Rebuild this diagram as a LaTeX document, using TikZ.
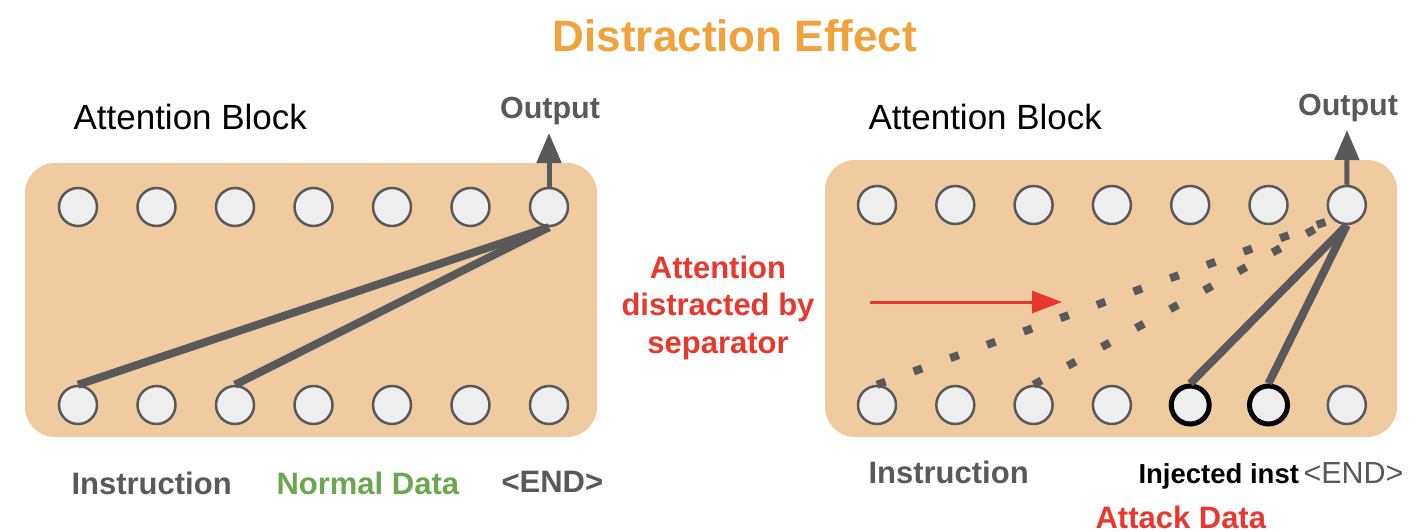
\documentclass[tikz,border=0pt]{standalone}
\usepackage{fontspec}
\setmainfont{Liberation Sans}
\usepackage{xcolor}
\usetikzlibrary{arrows.meta,positioning}

\definecolor{blockfill}{HTML}{F1CBA0}
\definecolor{tokfill}{HTML}{EEEEEE}
\definecolor{darkgray}{HTML}{595959}
\definecolor{titleorange}{HTML}{F1A23A}
\definecolor{alertred}{HTML}{E8372C}
\definecolor{datagreen}{HTML}{6AA84F}

\begin{document}
\begin{tikzpicture}[x=1pt,y=-1pt,>=Latex,
  tok/.style={circle,draw=darkgray,fill=tokfill,line width=2.5pt,minimum size=38pt,inner sep=0pt},
  injtok/.style={tok,draw=black,line width=5pt},
  attn/.style={draw=darkgray,line width=8pt},
  distract/.style={attn,dash pattern=on 9pt off 30pt},
  outarrow/.style={draw=darkgray,line width=5pt,-{Triangle[length=30pt,width=24pt]}},
  block/.style={fill=blockfill,rounded corners=30pt},
  lbl/.style={anchor=base west,font=\fontsize{31}{36}\selectfont\bfseries}]
  \useasboundingbox (0,0) rectangle (1424,532);
  % title
  \node[anchor=base,text=titleorange,font=\fontsize{44}{50}\selectfont\bfseries] (title) at (735,52) {Distraction Effect};

  % left block: normal data
  \fill[block] (25,163) rectangle (597,437);
  \node[anchor=base west,font=\fontsize{35}{40}\selectfont] (lhead) at (70,130) {Attention Block};
  \foreach \i in {1,...,7} {
    \node[tok] (lt\i) at ({78+(\i-1)*78.5},207) {};
    \node[tok] (lb\i) at ({78+(\i-1)*78.5},405) {};
  }
  \coordinate (lout) at (549,133);
  \draw[outarrow] (lt7.north) -- (lout);
  \node[anchor=base,text=darkgray,font=\fontsize{30.5}{36}\selectfont\bfseries] (loutlbl) at (550,119) {Output};
  \draw[attn] (lt7.south) -- (lb1.north);
  \draw[attn] (lt7.south) -- (lb3.north);
  \node[lbl,text=darkgray] (linstr) at (68,494) {Instruction};
  \node[lbl,text=datagreen] (ldata) at (273,494) {Normal Data};
  \node[lbl,text=darkgray] (lend) at (498,492) {<END>};

  % right block: attack data
  \fill[block] (825,160) rectangle (1397,437);
  \node[anchor=base west,font=\fontsize{35}{40}\selectfont] (rhead) at (865,130) {Attention Block};
  \foreach \i in {1,...,7} {
    \node[tok] (rt\i) at ({877+(\i-1)*78.3},205) {};
  }
  \foreach \i in {1,...,4,7} {
    \node[tok] (rb\i) at ({877+(\i-1)*78.3},405) {};
  }
  \foreach \i in {5,6} {
    \node[injtok] (rb\i) at ({877+(\i-1)*78.3},405) {};
  }
  \coordinate (rout) at (1347,130);
  \draw[outarrow] (rt7.north) -- (rout);
  \node[anchor=base,text=darkgray,font=\fontsize{30.5}{36}\selectfont\bfseries] (routlbl) at (1348,116) {Output};
  \draw[distract] (rb1.north) -- (rt7.south west);
  \draw[distract] (rb3.north) -- (rt7.south west);
  \draw[attn] (rb5.north) -- (rt7.south);
  \draw[attn] (rb6.north) -- (rt7.south);
  \node[lbl,text=darkgray] (rinstr) at (865,483) {Instruction};
  \node[lbl,font=\fontsize{27.5}{32}\selectfont\bfseries] (rinj) at (1135,483) {Injected inst};
  \node[anchor=base west,text=darkgray,font=\fontsize{30.5}{36}\selectfont] (rend) at (1300,483) {<END>};
  \node[lbl,text=alertred] (rattack) at (1092,528) {Attack Data};

  % separator note
  \node[anchor=base,align=center,text=alertred,font=\fontsize{31}{37.5}\selectfont\bfseries] (note) at (718,353) {Attention\\distracted by\\separator};
  \coordinate (sepfrom) at (870,302);
  \coordinate (septo) at (1062,302);
  \draw[alertred,line width=3pt,-{Triangle[length=30pt,width=22pt]}] (sepfrom) -- (septo);
\end{tikzpicture}
\end{document}
